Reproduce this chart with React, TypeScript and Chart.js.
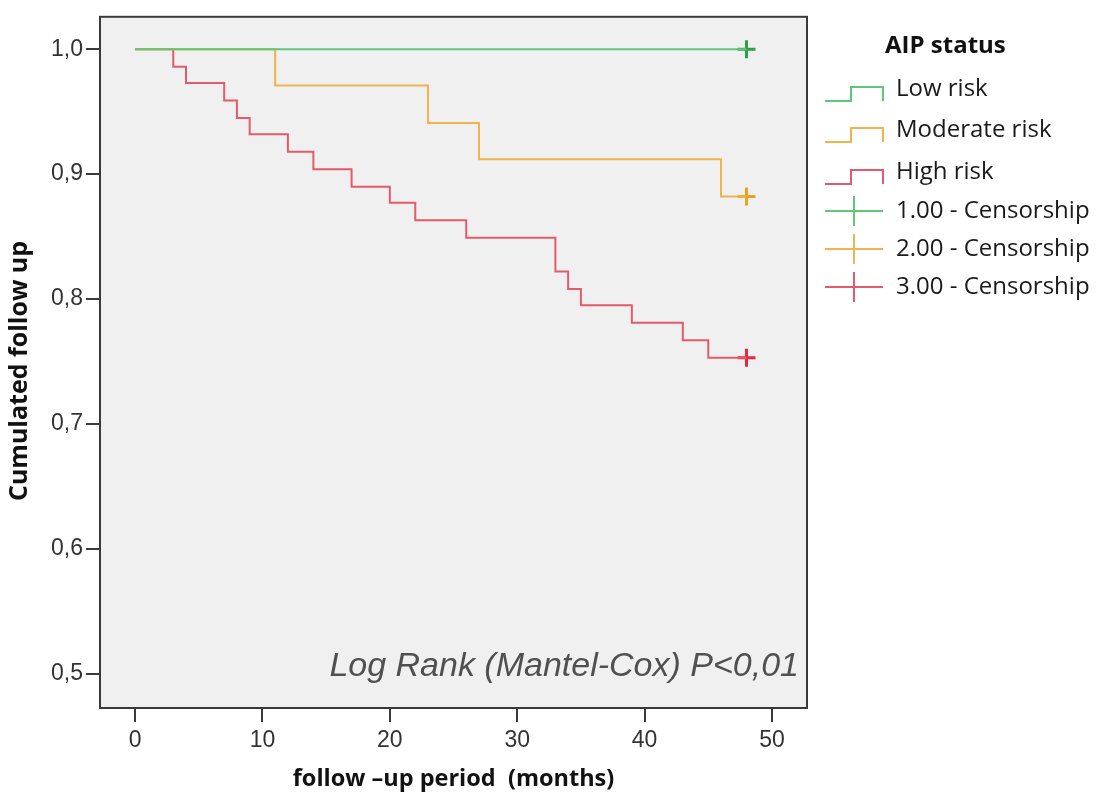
import React, { useEffect, useRef } from "react";
import { Chart, registerables } from "chart.js";

Chart.register(...registerables);

// ---- data ----
const LOW_TIMES = [0, 48];
const LOW_SURV = [1.0, 1.0];
const MOD_TIMES = [0, 11, 23, 27, 46, 48];
const MOD_SURV = [1.0, 0.971, 0.941, 0.912, 0.882, 0.882];
const HIGH_TIMES = [0, 3, 4, 7, 8, 9, 12, 14, 17, 20, 22, 26, 33, 34, 35, 39, 43, 45, 48];
const HIGH_SURV = [1.0, 0.986, 0.973, 0.959, 0.945, 0.932, 0.918, 0.904, 0.89, 0.877, 0.863, 0.849, 0.822, 0.808, 0.795, 0.781, 0.767, 0.753, 0.753];
const CENSOR_TIMES = [48, 48, 48];
const CENSOR_SURV = [1.0, 0.882, 0.753];

const X_TICKS = [0, 10, 20, 30, 40, 50];
const Y_TICKS = [0.5, 0.6, 0.7, 0.8, 0.9, 1.0];

const SERIES_LABELS = ["Low risk", "Moderate risk", "High risk"];
const CENSOR_LABELS = ["1.00 - Censorship", "2.00 - Censorship", "3.00 - Censorship"];
const LEGEND_TITLE = "AIP status";
const ANNOTATION = "Log Rank (Mantel-Cox) P<0,01";
const X_TITLE = "follow \u2013up period  (months)";
const Y_TITLE = "Cumulated follow up";

// ---- styles ----
const LINE_COLORS = ["#62c679", "#f2b24e", "#e25a6b"];
const MARK_COLORS = ["#2f9e4c", "#eba21f", "#e3293f"];
const FRAME = "#3a3a3a";
const TICK_FONT = '"Liberation Sans", Arial, sans-serif';
const LABEL_FONT = '"Open Sans", Lato, sans-serif';

const toPts = (xs: number[], ys: number[]) => xs.map((x, i) => ({ x, y: ys[i] }));

const decoPlugin = {
  id: "deco",
  beforeDraw(chart: any) {
    const { ctx, chartArea: a } = chart;
    ctx.save();
    ctx.fillStyle = "#ffffff";
    ctx.fillRect(0, 0, chart.width, chart.height);
    ctx.fillStyle = "#f0f0f0";
    ctx.fillRect(a.left, a.top, a.right - a.left, a.bottom - a.top);
    ctx.restore();
  },
  afterDatasetsDraw(chart: any) {
    const { ctx, chartArea: a } = chart;
    ctx.save();
    ctx.strokeStyle = FRAME;
    ctx.lineWidth = 2;
    ctx.strokeRect(a.left, a.top, a.right - a.left, a.bottom - a.top);
    ctx.restore();
  },
  afterDraw(chart: any) {
    const { ctx, chartArea: a } = chart;
    ctx.save();
    // annotation
    ctx.font = `italic 34px ${TICK_FONT}`;
    ctx.fillStyle = "#505050";
    ctx.textAlign = "right";
    ctx.textBaseline = "alphabetic";
    ctx.fillText(ANNOTATION, a.right - 8, a.bottom - 32);

    // y axis title
    ctx.save();
    ctx.translate(20, 371);
    ctx.rotate(-Math.PI / 2);
    ctx.textAlign = "center";
    ctx.textBaseline = "middle";
    ctx.fillStyle = "#111";
    ctx.font = `bold 25px ${LABEL_FONT}`;
    ctx.fillText(Y_TITLE, 0, 0);
    ctx.restore();

    // legend
    ctx.textAlign = "left";
    ctx.textBaseline = "middle";
    ctx.fillStyle = "#111";
    ctx.font = `bold 24px ${LABEL_FONT}`;
    ctx.fillText(LEGEND_TITLE, 885, 46);
    const rows = [89, 130, 172, 211, 249, 287];
    const labels = [...SERIES_LABELS, ...CENSOR_LABELS];
    ctx.font = `24px ${LABEL_FONT}`;
    labels.forEach((lab, i) => {
      const y = rows[i];
      ctx.fillStyle = "#1a1a1a";
      ctx.fillText(lab, 896, y);
      ctx.lineWidth = 2;
      if (i < 3) {
        ctx.strokeStyle = LINE_COLORS[i];
        ctx.beginPath();
        ctx.moveTo(825, y + 12);
        ctx.lineTo(851, y + 12);
        ctx.lineTo(851, y - 2);
        ctx.lineTo(883, y - 2);
        ctx.lineTo(883, y + 12);
        ctx.stroke();
      } else {
        ctx.strokeStyle = LINE_COLORS[i - 3];
        ctx.beginPath();
        ctx.moveTo(825, y);
        ctx.lineTo(883, y);
        ctx.moveTo(854, y - 15);
        ctx.lineTo(854, y + 15);
        ctx.stroke();
      }
    });
    ctx.restore();
  },
};

export default function App() {
  const ref = useRef<HTMLCanvasElement | null>(null);
  useEffect(() => {
    if (!ref.current) return;
    const lineDs = (label: string, xs: number[], ys: number[], i: number) => ({
      label,
      data: toPts(xs, ys),
      stepped: true,
      borderColor: LINE_COLORS[i],
      borderWidth: 2,
      pointRadius: 0,
      fill: false,
    });
    const censorDs = (i: number) => ({
      label: CENSOR_LABELS[i],
      data: [{ x: CENSOR_TIMES[i], y: CENSOR_SURV[i] }],
      showLine: false,
      pointStyle: "cross",
      pointRadius: 9,
      borderWidth: 3,
      borderColor: MARK_COLORS[i],
      backgroundColor: MARK_COLORS[i],
    });
    const chart = new Chart(ref.current, {
      type: "line",
      data: {
        datasets: [
          lineDs(SERIES_LABELS[0], LOW_TIMES, LOW_SURV, 0),
          lineDs(SERIES_LABELS[1], MOD_TIMES, MOD_SURV, 1),
          lineDs(SERIES_LABELS[2], HIGH_TIMES, HIGH_SURV, 2),
          censorDs(0),
          censorDs(1),
          censorDs(2),
        ] as any,
      },
      options: {
        animation: false,
        responsive: false,
        devicePixelRatio: 1,
        layout: { padding: { left: 0, top: 10, right: 291, bottom: 0 } },
        plugins: { legend: { display: false }, tooltip: { enabled: false } },
        scales: {
          x: {
            type: "linear",
            min: -2.75,
            max: 52.75,
            afterBuildTicks: (s: any) => {
              s.ticks = X_TICKS.map((v) => ({ value: v }));
            },
            afterFit: (s: any) => {
              s.height = 93;
            },
            grid: { drawOnChartArea: false, drawTicks: true, tickLength: 14, color: FRAME, lineWidth: 2 },
            border: { display: false },
            ticks: {
              font: { family: TICK_FONT, size: 23 },
              color: "#333",
              padding: 5,
              maxRotation: 0,
              autoSkip: false,
              callback: (v: any) => String(v),
            },
            title: {
              display: true,
              text: X_TITLE,
              color: "#111",
              font: { family: LABEL_FONT, size: 23.5, weight: "bold" },
              padding: { top: 0, bottom: 8 },
            },
          },
          y: {
            type: "linear",
            min: 0.4725,
            max: 1.026,
            afterBuildTicks: (s: any) => {
              s.ticks = Y_TICKS.map((v) => ({ value: v }));
            },
            afterFit: (s: any) => {
              s.width = 100;
            },
            grid: { drawOnChartArea: false, drawTicks: true, tickLength: 14, color: FRAME, lineWidth: 2 },
            border: { display: false },
            ticks: {
              font: { family: TICK_FONT, size: 23 },
              color: "#333",
              padding: 3,
              autoSkip: false,
              callback: (v: any) => Number(v).toFixed(1).replace(".", ","),
            },
            title: { display: false },
          },
        },
      },
      plugins: [decoPlugin],
    } as any);
    return () => chart.destroy();
  }, []);
  return (
    <div style={{ position: "fixed", left: 0, top: 0, width: 1098, height: 801, background: "#fff" }}>
      <canvas ref={ref} width={1098} height={801} style={{ display: "block" }} />
    </div>
  );
}
